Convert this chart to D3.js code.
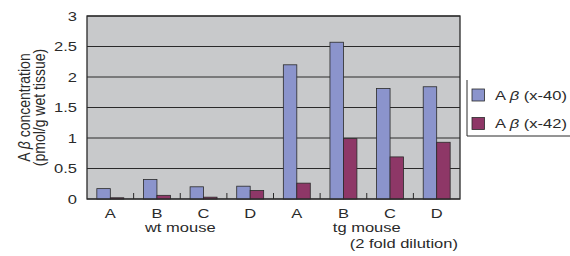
<!DOCTYPE html>
<html><head><meta charset="utf-8">
<script src="https://cdn.jsdelivr.net/npm/d3@7"></script>
<style>body{margin:0;background:#fff;}text{font-family:"Liberation Sans",Arial,sans-serif;fill:#2a2a2a;}</style>
</head><body><svg id="c" width="570" height="256"></svg>
<script>
const categories = ["A","B","C","D","A","B","C","D"];
const ab40 = [0.17,0.32,0.20,0.21,2.20,2.57,1.81,1.84];
const ab42 = [0.02,0.06,0.03,0.14,0.26,0.99,0.69,0.93];
const seriesNames = ["(x-40)","(x-42)"];
const colors = ["#8b94cc","#8e3767"];
const yTicks = [0,0.5,1,1.5,2,2.5,3];
const groupLabels = ["wt mouse","tg mouse","(2 fold dilution)"];

const svg = d3.select("#c");
const L=87,R=460,T=16,B=199;
const SX=1.18, SY=0.9;
const x = d3.scaleBand().domain(d3.range(categories.length)).range([L,R]);
const y = d3.scaleLinear().domain([0,3]).range([B,T]);
const xs = d3.scaleBand().domain([0,1]).range([0,x.bandwidth()]).paddingOuter(0.73);

function txt(g, px, py, s, anchor){
  const t = g.append("text").attr("transform",`translate(${px},${py}) scale(${SX},${SY})`)
    .attr("text-anchor",anchor||"start").attr("font-size",14);
  t.text(s);
  return t;
}

svg.append("rect").attr("x",L).attr("y",T).attr("width",R-L).attr("height",B-T).attr("fill","#c8c9cb");
svg.append("g").selectAll("line").data(yTicks).join("line")
  .attr("x1",L).attr("x2",R).attr("y1",d=>y(d)).attr("y2",d=>y(d)).attr("stroke","#2a2a2a").attr("stroke-width",1);
const gl = svg.append("g");
yTicks.forEach(d=>txt(gl,77,y(d)+4.5,String(d),"end"));
// bars
[ab40,ab42].forEach((s,si)=>{
  svg.append("g").selectAll("rect").data(s).join("rect")
    .attr("x",(d,i)=>x(i)+xs(si)).attr("width",xs.bandwidth())
    .attr("y",d=>y(d)).attr("height",d=>B-y(d))
    .attr("fill",colors[si]).attr("stroke","#2a2a2a").attr("stroke-width",0.8);
});
svg.append("rect").attr("x",L).attr("y",T).attr("width",R-L).attr("height",B-T).attr("fill","none").attr("stroke","#2a2a2a").attr("stroke-width",1.3);
svg.append("g").selectAll("line").data(d3.range(1,categories.length)).join("line")
  .attr("x1",d=>x(d)).attr("x2",d=>x(d)).attr("y1",B).attr("y2",B-6).attr("stroke","#2a2a2a");
const gx = svg.append("g");
categories.forEach((c,i)=>txt(gx,x(i)+x.bandwidth()/2,217.5,c,"middle"));
txt(gx,(x(1)+x(2)+x.bandwidth())/2,231.5,groupLabels[0],"middle");
txt(gx,(x(5)+x(6)+x.bandwidth())/2,231.5,groupLabels[1],"middle");
txt(gx,458,247.5,groupLabels[2],"end");
// y title
const yt = svg.append("text").attr("transform",`translate(0,${(T+B)/2}) rotate(-90) scale(1,${SX})`).attr("text-anchor","middle").attr("font-size",14);
const l1 = yt.append("tspan").attr("x",0).attr("y",25.5);
l1.append("tspan").text("A ");
l1.append("tspan").attr("font-style","italic").text("\u03B2");
l1.append("tspan").text(" concentration");
yt.append("tspan").attr("x",0).attr("y",38).text("(pmol/g wet tissue)");
// legend
svg.append("line").attr("x1",467).attr("x2",467).attr("y1",80).attr("y2",136).attr("stroke","#2a2a2a");
svg.append("line").attr("x1",467).attr("x2",570).attr("y1",136).attr("y2",136).attr("stroke","#2a2a2a");
seriesNames.forEach((n,i)=>{
  const yy = 89 + i*28.5;
  svg.append("rect").attr("x",472).attr("y",yy).attr("width",12.5).attr("height",12).attr("fill",colors[i]).attr("stroke","#2a2a2a").attr("stroke-width",0.8);
  const t = svg.append("text").attr("transform",`translate(495,${yy+10.5}) scale(${SX},${SY})`).attr("font-size",14);
  t.append("tspan").text("A ");
  t.append("tspan").attr("font-style","italic").text("\u03B2");
  t.append("tspan").text(" "+n);
});
</script></body></html>
